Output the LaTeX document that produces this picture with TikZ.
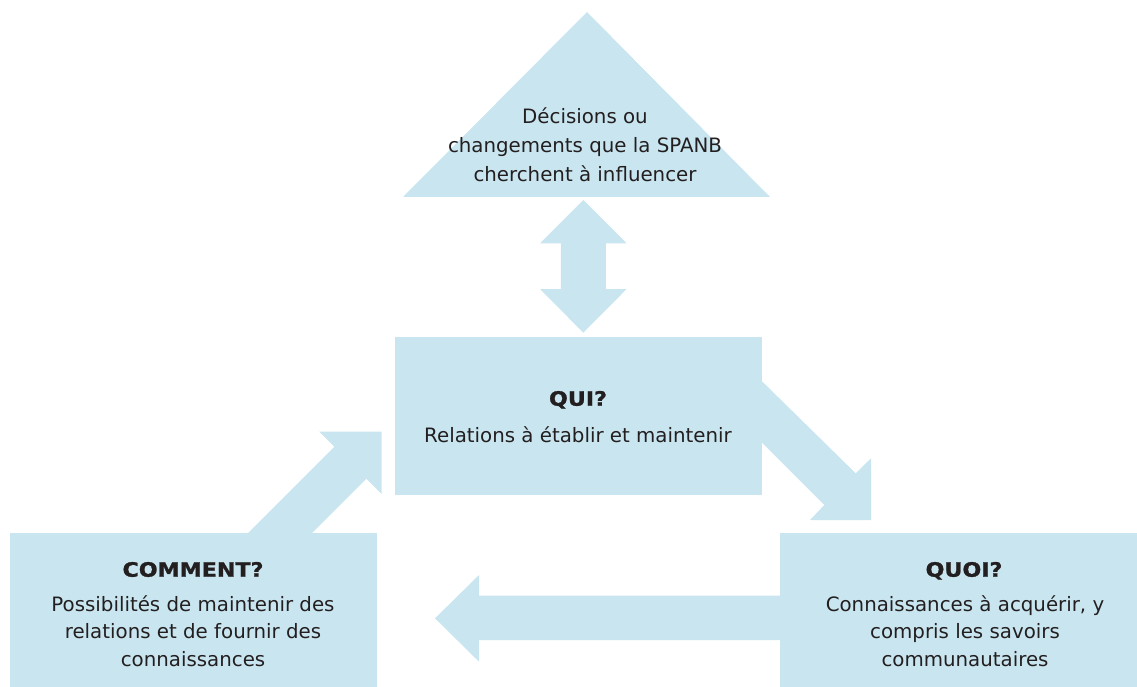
\documentclass[tikz,border=0pt]{standalone}
\usepackage{fontspec}
\setmainfont{DejaVu Sans}
\newfontfamily\heavy[FakeStretch=1.12,FakeBold=1.2]{DejaVu Sans Bold}
\definecolor{lblue}{RGB}{201,230,240}
\definecolor{ink}{RGB}{35,31,32}
\tikzset{
  blk/.style={fill=lblue, draw=none},
  boxnode/.style={blk, inner sep=0pt, anchor=north west},
  txt/.style={anchor=base, inner sep=0pt, text=ink, font=\fontsize{19.8}{27.5}\selectfont},
  ttl/.style={anchor=base, inner sep=0pt, text=ink, font=\fontsize{19.8}{27.5}\selectfont\heavy},
}
\begin{document}
\begin{tikzpicture}[x=1pt,y=-1pt]
\useasboundingbox (0,0) rectangle (1137,687);
% triangle
\fill[blk] (403,197) -- (587,12) -- (770,197) -- cycle;
% boxes
\node[boxnode, minimum width=367pt, minimum height=158pt] (qui) at (395,337) {};
\node[boxnode, minimum width=357pt, minimum height=154pt] (quoi) at (780,533) {};
\node[boxnode, minimum width=367pt, minimum height=154pt] (comment) at (10,533) {};
% vertical double arrow
\fill[blk] (583.3,200) -- (626.7,243.3) -- (605.8,243.3) -- (605.8,289) -- (626.7,289)
  -- (583.3,332.7) -- (540,289) -- (560.8,289) -- (560.8,243.3) -- (540,243.3) -- cycle;
% diagonal arrow QUI -> QUOI
\fill[blk] (740,359.7) -- (855.7,473.3) -- (871,458.3) -- (871,520) -- (810,520)
  -- (824.3,505) -- (740,420.7) -- cycle;
% diagonal arrow COMMENT -> QUI
\fill[blk] (243,538) -- (334.3,446.7) -- (319.3,431.7) -- (381.7,431.7) -- (381.7,494.1)
  -- (366.3,478.7) -- (307,538) -- cycle;
% horizontal arrow QUOI -> COMMENT
\fill[blk] (790,595.7) -- (479,595.7) -- (479,575) -- (435,618.3) -- (479,661.7)
  -- (479,640) -- (790,640) -- cycle;
% texts
\node[txt] (d1) at (585,124) {Décisions ou};
\node[txt] (d2) at (585,153) {changements que la SPANB};
\node[txt] (d3) at (585,181.5) {cherchent à influencer};
\node[ttl] (q0) at (578,405.7) {QUI?};
\node[txt] (q1) at (578,442.5) {Relations à établir et maintenir};
\node[ttl] (c0) at (193,576.7) {COMMENT?};
\node[txt] (c1) at (193,611.7) {Possibilités de maintenir des};
\node[txt] (c2) at (193,638.8) {relations et de fournir des};
\node[txt] (c3) at (193,666.5) {connaissances};
\node[ttl] (o0) at (964,576.7) {QUOI?};
\node[txt] (o1) at (965,611.7) {Connaissances à acquérir, y};
\node[txt] (o2) at (965,638.8) {compris les savoirs};
\node[txt] (o3) at (965,666.5) {communautaires};
\end{tikzpicture}
\end{document}
